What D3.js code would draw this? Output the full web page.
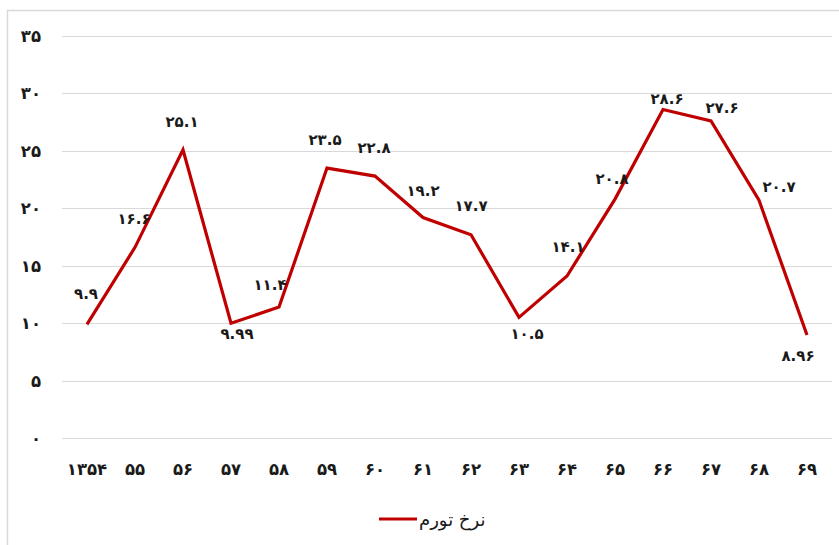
<!DOCTYPE html>
<html>
<head>
<meta charset="utf-8">
<script src="https://cdn.jsdelivr.net/npm/d3@7"></script>
<style>
	body { margin: 0; background: #fff; }
	svg text { font-family: "DejaVu Sans", sans-serif; }
</style>
</head>
<body>
<div id="chart"></div>
<script>
// years (Persian calendar), first one written in full
let years = ["۱۳۵۴", "۵۵", "۵۶", "۵۷", "۵۸", "۵۹", "۶۰", "۶۱", "۶۲", "۶۳", "۶۴", "۶۵", "۶۶", "۶۷", "۶۸", "۶۹"];
let inflation = [9.9, 16.6, 25.1, 9.99, 11.4, 23.5, 22.8, 19.2, 17.7, 10.5, 14.1, 20.8, 28.6, 27.6, 20.7, 8.96];
let yTicks = [0, 5, 10, 15, 20, 25, 30, 35];
let seriesName = "نرخ تورم";

// where each data label sits relative to its point (dx, dy)
let labelOffsets = [
	[-1, -31], [-1, -29], [-1, -29], [6, 10], [-9, -23], [-2, -29], [-1, -29], [0, -27],
	[0, -30], [8, 16], [1, -30], [-3, -21], [4, -12], [11, -14], [20, -14], [-9, 20]
];

let W = 839, H = 545;
let lineColor = "#C00000";

let toFa = (s) => String(s).replace(/[0-9]/g, (c) => "۰۱۲۳۴۵۶۷۸۹"[+c]);

let svg = d3.select("#chart")
	.append("svg")
	.attr("width", W)
	.attr("height", H);

// chart frame (only top & left edges show in the crop)
svg.append("rect")
	.attr("x", 7.5)
	.attr("y", 10.5)
	.attr("width", 900)
	.attr("height", 600)
	.attr("fill", "none")
	.attr("stroke", "#d9d9d9")
	.attr("stroke-width", 1.5);

let x = d3.scaleBand()
	.domain(years)
	.range([63, 831]);

let y = d3.scaleLinear()
	.domain([0, 35])
	.range([438, 36]);

// gridlines
svg.append("g")
	.selectAll("line")
	.data(yTicks)
	.enter().append("line")
	.attr("x1", 62)
	.attr("x2", 832)
	.attr("y1", (d) => Math.round(y(d)) + 0.5)
	.attr("y2", (d) => Math.round(y(d)) + 0.5)
	.attr("stroke", "#d9d9d9")
	.attr("stroke-width", 1);

// y tick labels
svg.append("g")
	.selectAll("text")
	.data(yTicks)
	.enter().append("text")
	.attr("x", 41)
	.attr("y", (d) => y(d) + 6)
	.attr("text-anchor", "end")
	.attr("font-size", 16.5)
	.attr("font-weight", "bold")
	.attr("fill", "#1a1a1a")
	.text((d) => toFa(d));

// x tick labels
svg.append("g")
	.selectAll("text")
	.data(years)
	.enter().append("text")
	.attr("x", (d) => x(d) + x.bandwidth() / 2)
	.attr("y", 475)
	.attr("text-anchor", "middle")
	.attr("font-size", 16.5)
	.attr("font-weight", "bold")
	.attr("fill", "#1a1a1a")
	.text((d) => d);

let line = d3.line()
	.x((d, i) => x(years[i]) + x.bandwidth() / 2)
	.y((d) => y(d));

svg.append("path")
	.datum(inflation)
	.attr("d", line)
	.attr("fill", "none")
	.attr("stroke", lineColor)
	.attr("stroke-width", 3.2)
	.attr("stroke-linejoin", "miter");

// data labels
svg.append("g")
	.selectAll("text")
	.data(inflation)
	.enter().append("text")
	.attr("x", (d, i) => x(years[i]) + x.bandwidth() / 2 + labelOffsets[i][0])
	.attr("y", (d, i) => y(d) + labelOffsets[i][1] + 6)
	.attr("text-anchor", "middle")
	.attr("font-size", 15)
	.attr("font-weight", "bold")
	.attr("fill", "#1a1a1a")
	.text((d) => toFa(d));

// legend
let lg = svg.append("g");
lg.append("line")
	.attr("x1", 379)
	.attr("x2", 417)
	.attr("y1", 519)
	.attr("y2", 519)
	.attr("stroke", lineColor)
	.attr("stroke-width", 3.2);
lg.append("text")
	.attr("x", 419)
	.attr("y", 526)
	.attr("direction", "rtl")
	.attr("text-anchor", "end")
	.attr("font-size", 18)
	.attr("fill", "#1a1a1a")
	.text(seriesName);
</script>
</body>
</html>
